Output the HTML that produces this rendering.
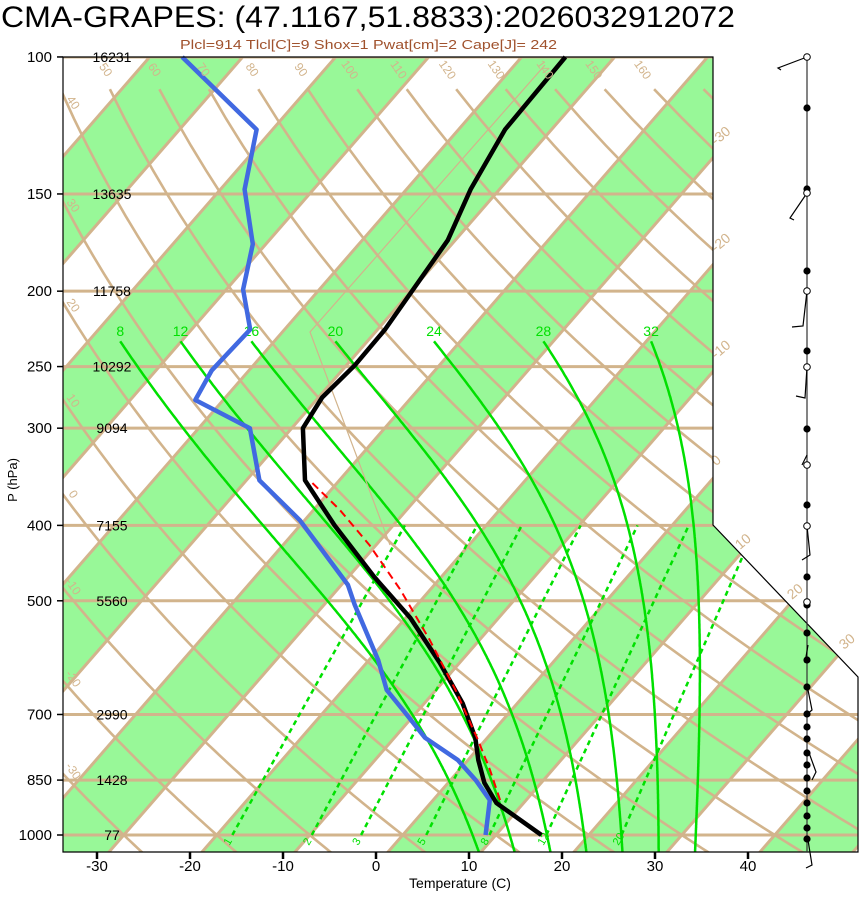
<!DOCTYPE html>
<html><head><meta charset="utf-8">
<style>
html,body{margin:0;padding:0;background:#fff;}
svg{display:block;font-family:"Liberation Sans",sans-serif;}
</style></head>
<body>
<svg id="chart" width="860" height="914" viewBox="0 0 860 914" xmlns="http://www.w3.org/2000/svg">
<defs>
<clipPath id="plotclip"><polygon points="63,57 713,57 713,525 858,677 858,852 63,852"/></clipPath>
</defs>
<text x="1" y="27" font-size="30" textLength="734" lengthAdjust="spacingAndGlyphs" fill="#000">CMA-GRAPES: (47.1167,51.8833):2026032912072</text>
<text x="180" y="49" font-size="13" textLength="377" lengthAdjust="spacingAndGlyphs" fill="#a0522d">Plcl=914 Tlcl[C]=9 Shox=1 Pwat[cm]=2 Cape[J]= 242</text>
<g id="bg" clip-path="url(#plotclip)"></g>
<g id="fg"></g>
<polygon points="63,57 713,57 713,525 858,677 858,852 63,852" fill="none" stroke="#000" stroke-width="1.2"/>
<text x="460" y="888" font-size="14" text-anchor="middle">Temperature (C)</text>
<text x="0" y="0" font-size="13" text-anchor="middle" transform="translate(17,480) rotate(-90)">P (hPa)</text>
</svg>
<script>
// ---- data ----
const P_LEVELS = [100,150,200,250,300,400,500,700,850,1000];
const HEIGHTS = ['16231','13635','11758','10292','9094','7155','5560','2990','1428','77'];
const T_TICKS = [-30,-20,-10,0,10,20,30,40];
const TEMP_P = [1000,910,857,801,750,677,601,526,466,400,350,300,274,249,224,172,148,124,100];
const TEMP_T = [14.9,7.1,3.9,1.1,-1.3,-5.9,-12.1,-19.5,-27.2,-36.3,-43.7,-48.8,-49.6,-49.1,-49.2,-50.8,-53.1,-55.0,-55.3];
const DEW_P = [1000,902,850,801,750,695,651,596,506,477,394,350,300,276,253,224,199,174,148,124,100];
const DEW_T = [8.9,6.1,2.7,-1.1,-6.7,-11.3,-15.3,-19.0,-26.7,-29.3,-40.5,-48.6,-54.5,-63.0,-64.0,-63.7,-68.2,-71.4,-77.4,-81.7,-96.5];
const PARCEL_P = [902,825,755,651,562,484,424,382,350];
const PARCEL_T = [7.2,3.3,-0.8,-7.9,-15.3,-23.2,-30.7,-37.2,-43.2];
const MOIST_THW = [8,12,16,20,24,28,32];
const MIX_W = [1,2,3,5,8,12,20];
const DRY_THETA = [-30,-20,-10,0,10,20,30,40,50,60,70,80,90,100,110,120,130,140,150,160,170];
const WIND_DOT_FILLED = [108,189,271,351,429,505,577,605,633,660,687,714,727,739,753,765,778,791,803,816,828,839];
const WIND_DOT_OPEN = [57,193,291,367,465,526,602];

// ---- axes ----
const NS='http://www.w3.org/2000/svg';
function yP(p){return 835+337.9*Math.log(p/1000);}
function xT(T,p){return 388+9.3*T+0.87*(852-yP(p));}
function tickX(t){return 376+9.3*t;}
function mk(tag,attrs,parent){const e=document.createElementNS(NS,tag);for(const k in attrs)e.setAttribute(k,attrs[k]);parent.appendChild(e);return e;}
const bg=document.getElementById('bg'), fg=document.getElementById('fg'), svg=document.getElementById('chart');
const TAN='#d2b48c', GREEN='#00e000';
const MIX_SHIFT=-1.2, MOIST_SHIFT=-0.5;

for(let a=-180;a<=60;a+=20){
  const pts=[[a,1100],[a+10,1100],[a+10,90],[a,90]].map(q=>xT(q[0],q[1]).toFixed(1)+','+yP(q[1]).toFixed(1)).join(' ');
  const b=mk('polygon',{points:pts,fill:'#98f898'},bg);
  
  
}
for(let t=-180;t<=70;t+=10){
  const l=mk('line',{x1:xT(t,1100),y1:yP(1100),x2:xT(t,90),y2:yP(90),stroke:TAN,'stroke-width':3},bg);
  
  
}
P_LEVELS.forEach((p,i)=>{
  const l=mk('line',{x1:63,y1:yP(p),x2:860,y2:yP(p),stroke:TAN,'stroke-width':3},bg);
  
  
});
function dryT(th,p){return (th+273.15)*Math.pow(p/1000,0.286)-273.15;}
DRY_THETA.forEach(th=>{
  let d='';
  for(let p=1100;p>=110;p-=10){d+=(d?'L':'M')+xT(dryT(th,p),p).toFixed(1)+','+yP(p).toFixed(1);}
  const e=mk('path',{d:d,fill:'none',stroke:TAN,'stroke-width':2.6},bg);
  
  
});
function tdFromW(w,p){const e=w*p/(622+w);const l=Math.log(e/6.112);return 243.5*l/(17.67-l)+MIX_SHIFT;}
MIX_W.forEach(w=>{
  const e=mk('line',{x1:xT(tdFromW(w,1000),1000),y1:yP(1000),x2:xT(tdFromW(w,400),400),y2:yP(400),stroke:GREEN,'stroke-width':2.5,'stroke-dasharray':'5,4'},bg);
  
  
  const lx=xT(tdFromW(w,1000),1000)-3;
  const tx=mk('text',{x:lx,y:846,'font-size':11,fill:GREEN,transform:'rotate(-60 '+lx+' 846)'},fg);
  tx.textContent=w;
  
  
});
function es(tc){return 6.112*Math.exp(17.67*tc/(tc+243.5));}
function dTdp(T,p){const tc=T-273.15;const e=es(tc);const rs=0.622*e/(p-e);return (287*T+2.5e6*rs)/(p*(1004+2.5e6*2.5e6*rs*0.622/(287*T*T)));}
MOIST_THW.forEach(th=>{
  const pts=[];let T=th+MOIST_SHIFT+273.15;
  let T2=T;const low=[];for(let p=1000;p<1060;p+=2){T2+=dTdp(T2,p)*2;low.push([p+2,T2]);}
  for(let p=1000;p>=232;p-=2){pts.push([p,T]);T-=dTdp(T,p)*2;}
  const all=low.reverse().concat(pts);
  const d=all.map((q,i)=>(i?'L':'M')+xT(q[1]-273.15,q[0]).toFixed(1)+','+yP(q[0]).toFixed(1)).join('');
  const e=mk('path',{d:d,fill:'none',stroke:GREEN,'stroke-width':2.5},bg);
  
  
  const top=pts[pts.length-1];
  const tx=mk('text',{x:xT(top[1]-273.15,top[0]),y:336,'font-size':14,fill:GREEN,'text-anchor':'middle'},fg);
  tx.textContent=th;
  
  
});
const thin=mk('polyline',{points:'545,65 310,332 390,545',fill:'none',stroke:TAN,'stroke-width':1.2},bg);



function prof(P,T,attrs,name){
  const d=P.map((p,i)=>(i?'L':'M')+xT(T[i],p).toFixed(1)+','+yP(p).toFixed(1)).join('');
  const e=mk('path',Object.assign({d:d,fill:'none','stroke-linejoin':'round'},attrs),fg);
  
  
}
prof(DEW_P,DEW_T,{stroke:'#4169e1','stroke-width':4.5},'dewpoint-profile');
prof(TEMP_P,TEMP_T,{stroke:'#000','stroke-width':4.5},'temperature-profile');
prof(PARCEL_P,PARCEL_T,{stroke:'#ff0000','stroke-width':2,'stroke-dasharray':'8,5'},'parcel-profile');

P_LEVELS.forEach((p,i)=>{
  const y=yP(p);
  const t=mk('text',{x:52,y:y+5,'font-size':15,'text-anchor':'end'},svg);
  t.textContent=p;
  
  
  const tk=mk('line',{x1:57,y1:y,x2:63,y2:y,stroke:'#000','stroke-width':1.5},svg);
  
  
  const h=mk('text',{x:112,y:y+5,'font-size':14,'text-anchor':'middle'},fg);
  h.textContent=HEIGHTS[i];
  
  
});
T_TICKS.forEach(t=>{
  const x=tickX(t);
  const tk=mk('line',{x1:x,y1:852,x2:x,y2:859,stroke:'#000','stroke-width':2.5},svg);
  
  
  const tx=mk('text',{x:x,y:871,'font-size':15,'text-anchor':'middle'},svg);
  tx.textContent=t;
  
  
});
DRY_THETA.forEach(th=>{
  let x=xT(dryT(th,105),105), y=72;
  if(x<75){
    let found=null;for(let p=105;p<=1050;p+=1){if(xT(dryT(th,p),p)>=70){found=p;break;}}
    if(!found) return; x=70; y=yP(found)-8;
  }
  if(x>670) return;
  const tx=mk('text',{x:x,y:y,'font-size':12,fill:TAN,'text-anchor':'middle',transform:'rotate(55 '+x+' '+y+')'},fg);
  tx.textContent=th;
  
  
});
[-30,-20,-10,0].forEach(t=>{
  const y=852-(713-388-9.3*t)/0.87-12;
  const tx=mk('text',{x:716,y:y,'font-size':14,fill:TAN,transform:'rotate(-40 716 '+y+')'},fg);
  tx.textContent=t;
  
  
});
[10,20,30].forEach((t,i)=>{
  const x=740+i*52, y=550+i*50;
  const tx=mk('text',{x:x,y:y,'font-size':14,fill:TAN,transform:'rotate(-40 '+x+' '+y+')'},fg);
  tx.textContent=t;
  
  
});
const wl=mk('line',{x1:807,y1:57,x2:807,y2:852,stroke:'#333','stroke-width':1.2},svg);


const barbs=['807,57 778,68 781,70','807,193 790,218 794,220','807,291 803,326 792,327','807,367 805,398 796,396','807,455 802,465','807,526 810,555 802,560','808,645 805,663','808,690 812,710 806,715','808,750 816,772 812,780','808,840 812,865 806,868'];
barbs.forEach(b=>{
  const e=mk('polyline',{points:b,fill:'none',stroke:'#000','stroke-width':1.2},svg);
  
  
});
WIND_DOT_FILLED.forEach(y=>{
  const c=mk('circle',{cx:807,cy:y,r:3.6,fill:'#000'},svg);
  
  
});
WIND_DOT_OPEN.forEach(y=>{
  const c=mk('circle',{cx:807,cy:y,r:3.3,fill:'#fff',stroke:'#000','stroke-width':1},svg);
  
  
});
</script>
</body></html>
